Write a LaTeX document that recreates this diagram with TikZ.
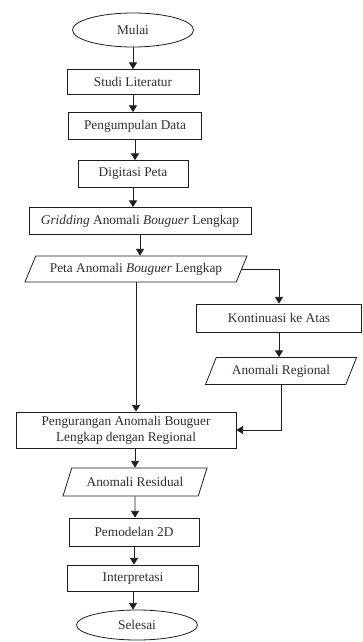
\documentclass[tikz,border=0pt]{standalone}
\usepackage{fontspec}
\setmainfont{Liberation Serif}
\usepackage{tikz}
\usetikzlibrary{positioning, arrows.meta, shapes.geometric}
\usepackage{xcolor}
\definecolor{alurGaris}{HTML}{1E1E1E}
\definecolor{alurTeks}{HTML}{2E2E2E}

\begin{document}
\begin{tikzpicture}[x=0.75pt, y=-0.75pt,
    kotak/.style={draw=alurGaris, line width=0.6pt, text=alurTeks, inner sep=1pt, align=center},
    jajar/.style={kotak, trapezium, trapezium left angle=54, trapezium right angle=126,
      trapezium stretches body},
    elips/.style={kotak, ellipse},
    panah/.style={draw=alurGaris, line width=0.6pt, -{Triangle[length=5pt, width=6pt]}}]
        \useasboundingbox (0,0) rectangle (363,642);
        % Kolom utama
        \node[elips, minimum width=90.75pt, minimum height=25.5pt] (mulai) at (133,30) {Mulai};
        \node[kotak, minimum width=99pt, minimum height=18.75pt] (studi) at (133,82) {Studi Literatur};
        \node[kotak, minimum width=99.75pt, minimum height=20.25pt] (kumpul) at (135,126) {Pengumpulan Data};
        \node[kotak, minimum width=82.5pt, minimum height=20.25pt] (digit) at (133,174) {Digitasi Peta};
        \node[kotak, minimum width=166.5pt, minimum height=20.25pt] (grid) at (140,221)
          {\textit{Gridding} Anomali \textit{Bouguer} Lengkap};
        \node[jajar, minimum width=166.5pt, minimum height=19.5pt] (peta) at (136,269)
          {Peta Anomali \textit{Bouguer} Lengkap};
        % Cabang kanan
        \node[kotak, minimum width=123.75pt, minimum height=21pt] (kontinu) at (279,318) {Kontinuasi ke Atas};
        \node[jajar, minimum width=113.25pt, minimum height=20.25pt] (regional) at (281,371) {Anomali Regional};
        % Gabungan dan sisa alur
        \node[kotak, minimum width=165pt, minimum height=27pt] (kurang) at (126,430)
          {Pengurangan Anomali Bouguer\\Lengkap dengan Regional};
        \node[jajar, minimum width=108pt, minimum height=21pt] (residual) at (135,482) {Anomali Residual};
        \node[kotak, minimum width=97.5pt, minimum height=21pt] (model) at (134,532) {Pemodelan 2D};
        \node[kotak, minimum width=98.25pt, minimum height=19.5pt] (interp) at (133,578) {Interpretasi};
        \node[elips, minimum width=90.75pt, minimum height=22.5pt] (selesai) at (137,625) {Selesai};
        % Panah lurus ke bawah
        \foreach \atas/\bawah in {mulai/studi, studi/kumpul, kumpul/digit, digit/grid,
          grid/peta, kontinu/regional, model/interp, interp/selesai} {
          \draw[panah] (\atas) -- (\atas |- \bawah.north);
        }
        \draw[panah] (peta.south) -- (peta.south |- kurang.north);
        \draw[panah] (residual.north |- kurang.south) -- (residual.north);
        \draw[panah] (residual) -- (residual |- model.north);
        % Panah berbelok
        \draw[panah] (peta.east) -| (kontinu.north);
        \draw[panah] (regional.south) |- (kurang.east);
      \end{tikzpicture}
\end{document}
